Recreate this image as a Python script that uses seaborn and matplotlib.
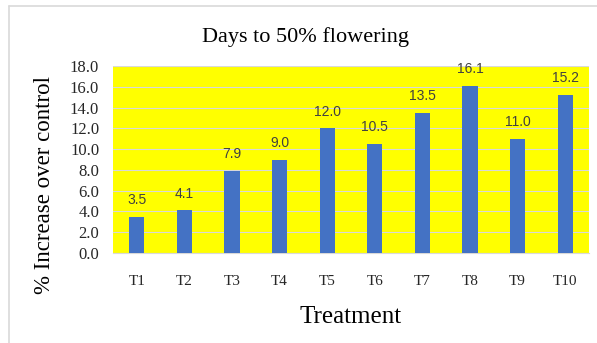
import matplotlib
matplotlib.use("Agg")
import matplotlib.pyplot as plt
import seaborn as sns
import pandas as pd
from matplotlib.lines import Line2D

# ---- data --------------------------------------------------------------------
treatments = ["T1", "T2", "T3", "T4", "T5", "T6", "T7", "T8", "T9", "T10"]
increase = [3.5, 4.1, 7.9, 9.0, 12.0, 10.5, 13.5, 16.1, 11.0, 15.2]
y_ticks = [0, 2, 4, 6, 8, 10, 12, 14, 16, 18]

df = pd.DataFrame({"Treatment": treatments, "Increase": increase})

sns.set_theme(style="white")
plt.rcParams["font.family"] = ["Liberation Serif", "DejaVu Serif"]
SERIF = ["Liberation Serif", "DejaVu Serif"]

W, H = 597, 343
fig = plt.figure(figsize=(W / 100, H / 100), dpi=100)
ax = fig.add_axes([113 / W, 1 - 253 / H, (589 - 113) / W, (253 - 66) / H])
ax.set_facecolor("#FFFF00")

sns.barplot(data=df, x="Treatment", y="Increase", color="#4472C4",
            width=0.32, saturation=1, linewidth=0, ax=ax, zorder=3)

ax.set_ylim(0, 18)
ax.set_xlim(-0.5, len(treatments) - 0.5)
ax.set_yticks(y_ticks)
ax.set_yticklabels([f"{v:.1f}" for v in y_ticks], fontsize=12, family=SERIF)
for lab in ax.get_xticklabels():
    lab.set_family(SERIF)
ax.tick_params(axis="x", labelsize=11, pad=16, length=0)
ax.tick_params(axis="y", length=0, pad=10)
ax.grid(axis="y", color="#D9D9D9", linewidth=0.8, zorder=1)
ax.set_axisbelow(True)
for s in ["top", "right", "left"]:
    ax.spines[s].set_visible(False)
ax.spines["bottom"].set_color("#D9D9D9")
ax.spines["bottom"].set_linewidth(0.8)
ax.set_xlabel("")
ax.set_ylabel("")

# value labels above bars
for i, v in enumerate(increase):
    ax.annotate(f"{v:.1f}", (i, v), xytext=(0, 7), textcoords="offset points",
                ha="center", va="bottom", fontsize=10, color="#404040",
                family="Liberation Sans", clip_on=False)

fig.text(306 / W, 1 - 42 / H, "Days to 50% flowering", ha="center",
         va="baseline", fontsize=16, color="black")
fig.text(351 / W, 1 - 323 / H, "Treatment", ha="center", va="baseline",
         fontsize=18, color="black")
fig.text(45 / W, 1 - 185 / H, "% Increase over control", rotation=90,
         ha="center", va="center", fontsize=16.5, color="black")

# outer frame (partially visible)
fig.add_artist(Line2D([8.5 / W, 8.5 / W], [0, 1 - 5.5 / H],
                      transform=fig.transFigure, color="#D9D9D9", linewidth=1.2))
fig.add_artist(Line2D([8.5 / W, 1], [1 - 5.5 / H, 1 - 5.5 / H],
                      transform=fig.transFigure, color="#D9D9D9", linewidth=1.2))

fig.savefig("out.png", dpi=100, facecolor="white")
